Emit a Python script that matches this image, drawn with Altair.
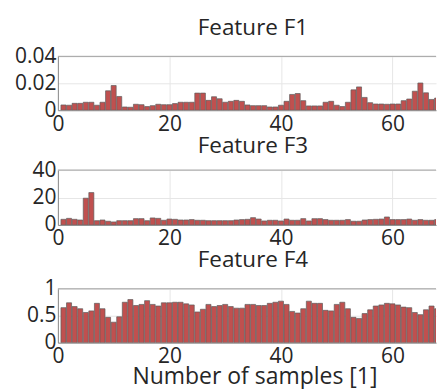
import altair as alt
import pandas as pd

samples = list(range(1, 70))

f1 = [0.0039, 0.0037, 0.0051, 0.0051, 0.0059, 0.0059, 0.0037, 0.0059, 0.0144, 0.0183,
      0.0102, 0.0024, 0.0022, 0.0044, 0.0041, 0.0027, 0.0034, 0.0044, 0.0041, 0.0041,
      0.0049, 0.0059, 0.0059, 0.0059, 0.0127, 0.0127, 0.0073, 0.0100, 0.0085, 0.0059,
      0.0066, 0.0073, 0.0066, 0.0039, 0.0034, 0.0034, 0.0034, 0.0024, 0.0024, 0.0037,
      0.0066, 0.0117, 0.0124, 0.0071, 0.0032, 0.0032, 0.0032, 0.0059, 0.0066, 0.0037,
      0.0027, 0.0059, 0.0151, 0.0173, 0.0095, 0.0056, 0.0046, 0.0046, 0.0044, 0.0046,
      0.0046, 0.0071, 0.0083, 0.0141, 0.0202, 0.0129, 0.0080, 0.0090, 0.0078]

f3 = [4.1, 4.8, 4.1, 3.6, 19.5, 23.6, 3.1, 3.6, 2.7, 2.2,
      3.1, 3.1, 3.1, 4.6, 4.6, 3.1, 5.1, 4.8, 3.4, 4.3,
      4.1, 3.6, 3.6, 3.9, 3.4, 3.4, 3.1, 3.1, 3.1, 3.1,
      3.1, 3.6, 3.9, 4.1, 5.3, 4.3, 2.9, 3.4, 3.4, 2.9,
      4.3, 3.4, 3.4, 4.6, 2.9, 4.6, 4.6, 3.9, 3.4, 3.4,
      3.4, 3.9, 2.7, 2.7, 3.6, 3.9, 4.1, 4.3, 5.8, 3.9,
      3.9, 3.9, 4.3, 3.4, 3.9, 3.4, 3.4, 3.9, 3.9]

f4 = [0.65, 0.74, 0.67, 0.63, 0.56, 0.59, 0.73, 0.63, 0.47, 0.38,
      0.48, 0.75, 0.80, 0.69, 0.71, 0.78, 0.71, 0.68, 0.74, 0.74,
      0.75, 0.75, 0.72, 0.70, 0.57, 0.62, 0.71, 0.67, 0.69, 0.71,
      0.67, 0.64, 0.64, 0.71, 0.71, 0.69, 0.69, 0.73, 0.75, 0.77,
      0.71, 0.58, 0.55, 0.63, 0.77, 0.73, 0.73, 0.60, 0.59, 0.71,
      0.75, 0.63, 0.47, 0.45, 0.54, 0.61, 0.68, 0.70, 0.73, 0.72,
      0.70, 0.66, 0.65, 0.56, 0.52, 0.61, 0.68, 0.63, 0.67]

titles = ["Feature F1", "Feature F3", "Feature F4"]
x_ticks = [0, 20, 40, 60]
x_title = "Number of samples [1]"

FONT = "Open Sans"
FILL = "#c0504f"
EDGE = "#5e5e5e"
TEXT = "#262626"
W = 379
XMAX = 67.8


def panel(values, title, ydom, yticks, height, show_xtitle, toff):
    df = pd.DataFrame({"sample": samples, "value": values})
    xs = alt.Scale(domain=[0, XMAX], nice=False, zero=False)
    bars = alt.Chart(df).transform_calculate(
        x0="datum.sample - 0.45", x1="datum.sample + 0.45", base="0"
    ).mark_bar(fill=FILL, stroke=EDGE, strokeWidth=0.7, clip=True).encode(
        x=alt.X("x0:Q", scale=xs,
                axis=alt.Axis(values=x_ticks, title=x_title if show_xtitle else None,
                              grid=True, ticks=False, labelPadding=3,
                              labelFlush=False, labelOverlap=False,
                              titleX=197)),
        x2="x1:Q",
        y=alt.Y("value:Q", scale=alt.Scale(domain=ydom, nice=False),
                axis=alt.Axis(values=yticks, format=".2~f", title=None, grid=True,
                              ticks=False, labelPadding=2, labelFlush=False,
                              labelOverlap=False)),
        y2="base:Q",
    )
    top = alt.Chart(pd.DataFrame({"a": [0]})).mark_rule(color="#a0a0a0", strokeWidth=1).encode(
        x=alt.value(0), x2=alt.value(W), y=alt.value(0)
    )
    return alt.layer(bars, top).properties(
        width=W, height=height,
        title=alt.TitleParams(title, font=FONT, fontSize=22.5, fontWeight="normal",
                              color=TEXT, offset=toff, dx=6),
    )


p1 = panel(f1, titles[0], [0, 0.04], [0, 0.02, 0.04], 54, False, 6)
p2 = panel(f3, titles[1], [0, 40], [0, 20, 40], 55, False, 2)
p3 = panel(f4, titles[2], [0, 1], [0, 0.5, 1], 54, True, 6)

chart = alt.vconcat(p1, p2, p3, spacing=0).properties(
    padding={"left": 6, "right": 0, "top": 8, "bottom": 0}
).configure_view(stroke=None).configure_axis(
    labelFont=FONT, labelFontSize=21, labelColor=TEXT,
    titleFont=FONT, titleFontSize=23, titleColor=TEXT, titleFontWeight="normal",
    titlePadding=-1,
    domainColor="#8a8a8a", gridColor="#e6e6e6", gridWidth=1,
)

chart.save("out.html", embed_options={"renderer": "svg", "actions": False})
